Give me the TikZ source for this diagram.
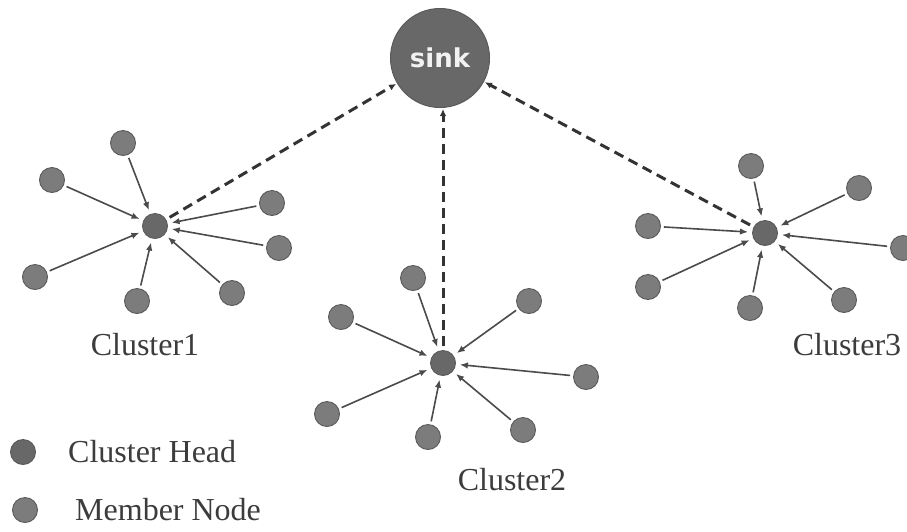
\documentclass[tikz,border=0pt]{standalone}
\usepackage{fontspec}
\setmainfont{Liberation Serif}
\newfontfamily\sinkfont{DejaVu Sans}
\usetikzlibrary{arrows.meta}
\definecolor{memfill}{RGB}{124,124,124}
\definecolor{headfill}{RGB}{104,104,104}
\definecolor{ringcol}{RGB}{90,90,90}
\definecolor{linecol}{RGB}{75,75,75}
\definecolor{txtcol}{RGB}{60,60,60}
\tikzset{
  member/.style={circle, minimum size=25pt, inner sep=0pt, fill=memfill, draw=ringcol, line width=0.9pt},
  head/.style={circle, minimum size=25pt, inner sep=0pt, fill=headfill, draw=ringcol, line width=0.9pt},
  sinknode/.style={circle, minimum size=99pt, inner sep=0pt, fill=headfill, draw=ringcol, line width=1pt,
    font=\sinkfont\bfseries\fontsize{26}{30}\selectfont, text=white!90!gray},
  link/.style={draw=linecol, line width=1.6pt, -{Latex[length=8pt,width=6.5pt]}, shorten <=3pt, shorten >=4pt},
  uplink/.style={draw=black!80, line width=3pt, dash pattern=on 10pt off 6pt, -{Latex[length=7pt,width=6.5pt]}, shorten <=4pt, shorten >=1pt},
  lbl/.style={font=\fontsize{32}{36}\selectfont, text=txtcol, inner sep=0pt}
}
\begin{document}
\begin{tikzpicture}[x=1pt,y=-1pt]
\useasboundingbox[fill=white] (0,0) rectangle (907,531);
% sink
\node[sinknode] (sink) at (440,58) {sink};
% cluster heads
\node[head] (h1) at (155,226) {};
\node[head] (h2) at (443,363) {};
\node[head] (h3) at (765,233) {};
% cluster 1 members
\node[member] (a1) at (123,143) {};
\node[member] (a2) at (52,180) {};
\node[member] (a3) at (272,203) {};
\node[member] (a4) at (279,248) {};
\node[member] (a5) at (35,277) {};
\node[member] (a6) at (137,301) {};
\node[member] (a7) at (232,293) {};
% cluster 2 members
\node[member] (b1) at (413,278) {};
\node[member] (b2) at (341,317) {};
\node[member] (b3) at (529,301) {};
\node[member] (b4) at (586,377) {};
\node[member] (b5) at (327,414) {};
\node[member] (b6) at (428,437) {};
\node[member] (b7) at (523,430) {};
% cluster 3 members
\node[member] (c1) at (751,166) {};
\node[member] (c2) at (859,188) {};
\node[member] (c3) at (648,226) {};
\node[member] (c4) at (903,248) {};
\node[member] (c5) at (648,287) {};
\node[member] (c6) at (750,308) {};
\node[member] (c7) at (844,300) {};
% member links
\foreach \m in {a1,a2,a3,a4,a5,a6,a7} \draw[link] (\m) -- (h1);
\foreach \m in {b1,b2,b3,b4,b5,b6,b7} \draw[link] (\m) -- (h2);
\foreach \m in {c1,c2,c3,c4,c5,c6,c7} \draw[link] (\m) -- (h3);
% head to sink
\draw[uplink] (h1) -- (sink);
\draw[uplink] (h2.north) -- (sink.south -| h2.north);
\draw[uplink] (h3) -- (sink);
% labels
\node[lbl] (l1) at (145,345) {Cluster1};
\node[lbl] (l2) at (512,480) {Cluster2};
\node[lbl] (l3) at (847,345) {Cluster3};
% legend
\node[head] (kh) at (23,452) {};
\node[lbl, anchor=west] (kht) at (68,452) {Cluster Head};
\node[member] (km) at (25,510) {};
\node[lbl, anchor=west] (kmt) at (75,510) {Member Node};
\end{tikzpicture}
\end{document}
